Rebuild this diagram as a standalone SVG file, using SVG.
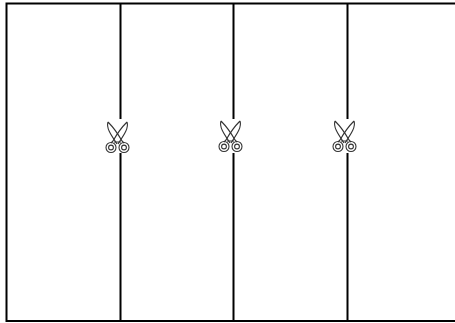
<svg xmlns="http://www.w3.org/2000/svg" width="455" height="323" viewBox="0 0 455 323">
<style>.l{stroke:#000;stroke-width:2;fill:none}.s{fill:none;stroke:#333;stroke-width:1.100}</style>
<defs><g id="sc">
<rect x="-10" y="-16" width="20" height="30" fill="#fff"/>
<path class="s" d="M-10 -16C-12 -10 -7 -3 -1 6M-10 -16C-6 -12 -1 -6 4 3"/>
<path class="s" d="M9 -16C11 -10 6 -3 0 6M9 -16C5 -12 0 -6 -5 3"/>
<path class="s" d="M-5 3L-7 5M4 3L6 5M-4 4H3"/>
<circle class="s" cx="-7" cy="9.500" r="5"/><circle class="s" cx="-7" cy="9.500" r="2.400"/>
<circle class="s" cx="6" cy="9.500" r="5"/><circle class="s" cx="6" cy="9.500" r="2.400"/>
</g></defs>
<g id="connectors">
<path class="l" d="M120.500 4V119M120.500 153V321M233.500 4V119M233.500 153V321M347.500 4V119M347.500 153V321"/>
</g>
<g id="frame"><path class="l" d="M455 3.500H6.500V321H455"/></g>
<g id="scissors1"><use href="#sc" x="118" y="138"/></g>
<g id="scissors2"><use href="#sc" x="231" y="137"/></g>
<g id="scissors3"><use href="#sc" x="345" y="137"/></g>
</svg>
